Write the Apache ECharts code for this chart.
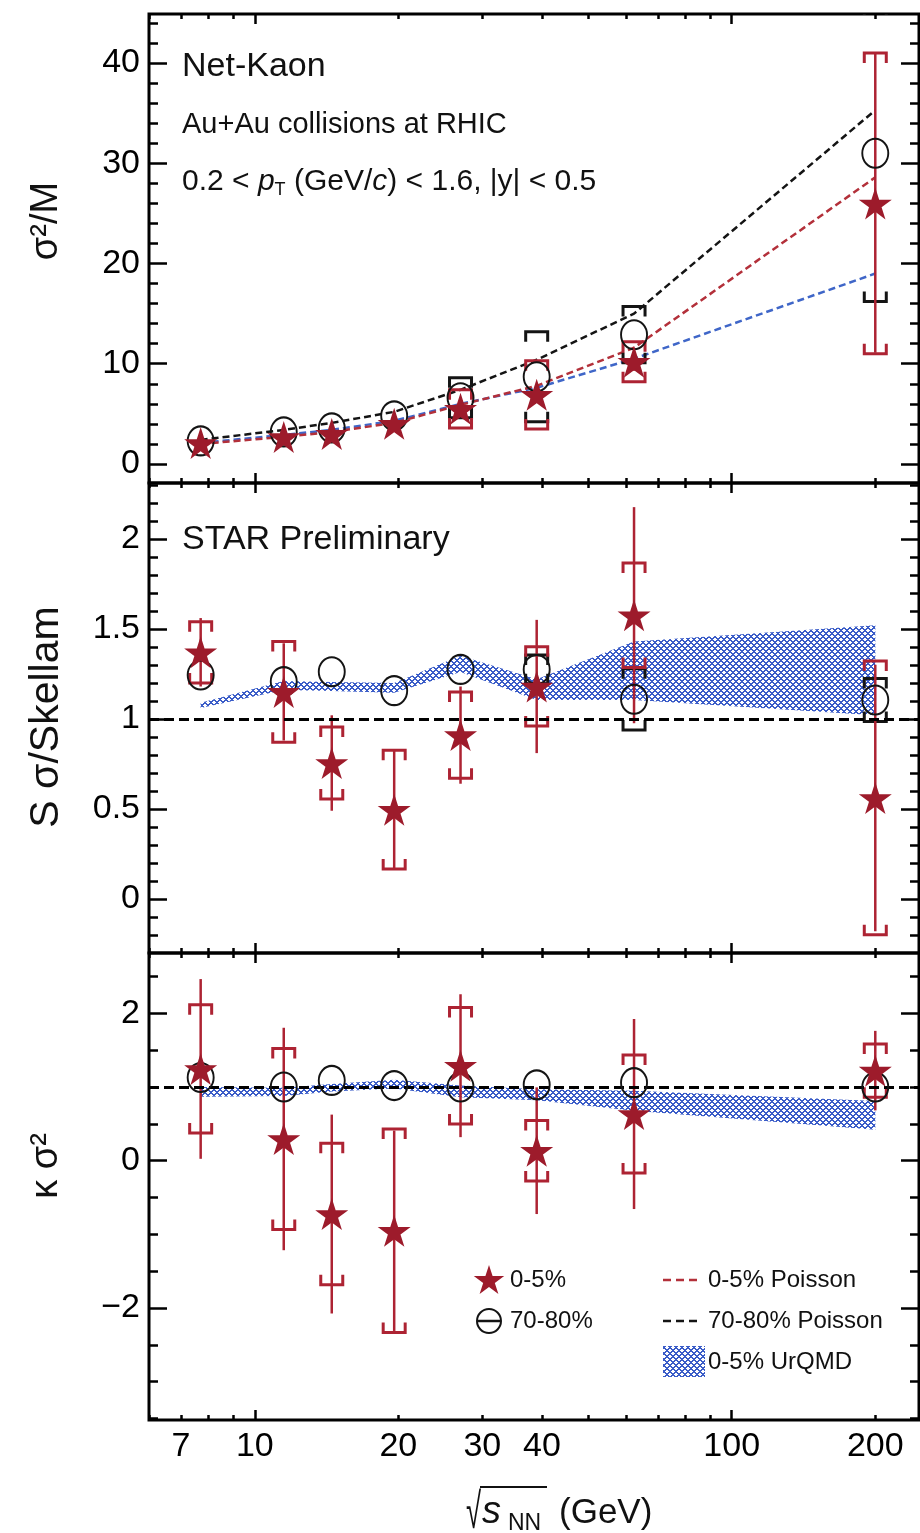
<!DOCTYPE html>
<html><head><meta charset="utf-8">
<script src="https://cdn.jsdelivr.net/npm/echarts@6/dist/echarts.min.js"></script>
<style>html,body{margin:0;padding:0;background:#fff}#c{width:920px;height:1533px}</style>
</head><body><div id="c"></div>
<script>
// ---------------- DATA ----------------
const energies = [7.7, 11.5, 14.5, 19.6, 27, 39, 62.4, 200];

// Panel 1: sigma^2/M   (null = bracket hidden behind the marker in the original)
const s2mCentral = [2.1, 2.7, 3.0, 4.0, 5.5, 6.9, 10.2, 26.0];
const s2mCentralStat = [0.05, 0.05, 0.08, 0.1, 0.2, 0.4, 0.9, 14.9];
const s2mCentralSys = [null, null, null, null, 1.9, 3.4, 2.0, 15.0];
const s2mPeripheral = [2.3, 3.2, 3.6, 4.8, 6.6, 8.7, 12.9, 31.0];
const s2mPeripheralSys = [null, null, null, null, 2.0, 4.5, 2.8, 14.8];
const s2mPoissonCentral = [2.0, 2.7, 3.2, 4.1, 5.9, 7.8, 11.6, 28.6];
const s2mPoissonPeripheral = [2.4, 3.4, 4.1, 5.2, 7.4, 10.4, 15.0, 35.3];
const s2mUrqmd = [2.1, 2.9, 3.4, 4.3, 6.0, 7.6, 10.5, 19.0];

// Panel 2: S sigma / Skellam
const sskCentral = [1.37, 1.15, 0.755, 0.496, 0.91, 1.18, 1.576, 0.561];
const sskCentralStat = [0.19, 0.27, 0.265, 0.33, 0.27, 0.37, 0.60, 0.74];
const sskCentralSys = [0.17, 0.28, 0.20, 0.33, 0.24, 0.22, 0.29, 0.76];
const sskPeripheral = [1.244, 1.207, 1.262, 1.157, 1.275, 1.275, 1.109, 1.105];
const sskPeripheralSys = [null, null, null, null, null, 0.08, 0.17, 0.12];
const sskUrqmdLow = [1.06, 1.16, 1.155, 1.145, 1.26, 1.105, 1.105, 1.02];
const sskUrqmdHigh = [1.09, 1.21, 1.205, 1.20, 1.35, 1.22, 1.43, 1.52];

// Panel 3: kappa sigma^2
const kurtCentral = [1.246, 0.295, -0.724, -0.951, 1.29, 0.136, 0.634, 1.223];
const kurtCentralStat = [1.22, 1.51, 1.35, 1.36, 0.97, 0.86, 1.29, 0.54];
const kurtCentralSys = [0.87, 1.23, 0.96, 1.38, 0.79, 0.41, 0.80, 0.36];
const kurtPeripheral = [1.13, 1.0, 1.09, 1.02, 1.0, 1.03, 1.06, 1.0];
const kurtUrqmdLow = [0.87, 0.88, 0.94, 0.98, 0.86, 0.82, 0.68, 0.42];
const kurtUrqmdHigh = [1.0, 0.99, 1.04, 1.10, 1.02, 0.97, 0.95, 0.81];

const poissonBaseline = 1;

// Tick labels
const xTickLabels = [7, 10, 20, 30, 40, 100, 200];
const xMajorTicks = [10, 100];
const xMinorTicks = [6, 7, 8, 9, 20, 30, 40, 50, 60, 70, 80, 90, 200];
const y1Labels = [0, 10, 20, 30, 40];
const y2Labels = [0, 0.5, 1, 1.5, 2];
const y3Labels = [-2, 0, 2];

// ---------------- LAYOUT ----------------
const FONT = "'Liberation Sans', Arial, Helvetica, sans-serif";
const XMIN = 6, XMAX = 247;
const grids = [
  {left: 149, width: 770, top: 14, height: 469},
  {left: 149, width: 770, top: 483, height: 470},
  {left: 149, width: 770, top: 953, height: 467}
];
const yRanges = [[-1.9, 44.9], [-0.3, 2.31], [-3.52, 2.82]];
function range(a, b, s) { const r = []; for (let v = a; v <= b + 1e-9; v += s) r.push(Math.round(v * 1000) / 1000); return r; }
const yMajor = [y1Labels, y2Labels, y3Labels];
const yMinor = [range(0, 44, 2), range(-0.2, 2.3, 0.1), range(-3.5, 2.5, 0.5)];
const yFmt = [v => String(v), v => String(v), v => v < 0 ? '\u2212' + Math.abs(v) : String(v)];

const STAR_RED = '#9d1b2b', BAR_RED = '#ad2333', BLACK = '#141414', BLUE = '#3f66c8';
const STAR = 'path://M0,-10L2.245,-3.09L9.511,-3.09L3.633,1.18L5.878,8.09L0,3.82L-5.878,8.09L-3.633,1.18L-9.511,-3.09L-2.245,-3.09Z';

function makeHatch() {
  const n = 6, c = document.createElement('canvas'); c.width = n; c.height = n;
  const g = c.getContext('2d'); const im = g.createImageData(n, n);
  for (let j = 0; j < n; j++) for (let i = 0; i < n; i++) {
    const on = ((i + j) % n) < 2 || ((i - j + n) % n) < 2;
    const o = (j * n + i) * 4;
    if (on) { im.data[o] = 58; im.data[o + 1] = 92; im.data[o + 2] = 200; im.data[o + 3] = 255; }
  }
  g.putImageData(im, 0, 0); return c;
}
const HATCH = makeHatch();

// ---------------- AXES ----------------
const L0 = Math.log10(XMIN), L1 = Math.log10(XMAX);
const xAxes = [], yAxes = [];
const tickLine = {color: '#000', width: 2.5};
grids.forEach((g, i) => {
  xAxes.push({type: 'log', logBase: 10, gridIndex: i, min: XMIN, max: XMAX, show: false, axisLine: {onZero: false}});
  const mkx = (pos, ticks, len, labels) => ({
    type: 'value', gridIndex: i, position: pos, min: L0, max: L1,
    axisLine: {show: false, onZero: false}, splitLine: {show: false},
    axisTick: {show: true, inside: true, length: len, customValues: ticks.map(Math.log10), lineStyle: tickLine},
    axisLabel: labels ? {show: true, customValues: labels.map(Math.log10),
      formatter: v => String(Math.round(Math.pow(10, v))), fontSize: 34, color: '#000', margin: 10, fontFamily: FONT} : {show: false}
  });
  xAxes.push(mkx('bottom', xMajorTicks, 10, i === 2 ? xTickLabels : null));
  xAxes.push(mkx('bottom', xMinorTicks, 5, null));
  xAxes.push(mkx('top', xMajorTicks, 10, null));
  xAxes.push(mkx('top', xMinorTicks, 5, null));

  const r = yRanges[i];
  const mky = (pos, ticks, len, labels) => ({
    type: 'value', gridIndex: i, position: pos, min: r[0], max: r[1],
    axisLine: {show: false, onZero: false}, splitLine: {show: false},
    axisTick: {show: true, inside: true, length: len, customValues: ticks, lineStyle: tickLine},
    axisLabel: labels ? {show: true, customValues: labels, formatter: yFmt[i], fontSize: 34, color: '#000', margin: 9, fontFamily: FONT} : {show: false}
  });
  yAxes.push(mky('left', yMajor[i], 18, yMajor[i]));
  yAxes.push(mky('left', yMinor[i], 9, null));
  yAxes.push(mky('right', yMajor[i], 18, null));
  yAxes.push(mky('right', yMinor[i], 9, null));
});

// ---------------- SERIES ----------------
const pairs = (xs, ys) => xs.map((x, k) => [x, ys[k]]);
function errSeries(p, ys, es, color, width, z) {
  return {type: 'custom', xAxisIndex: p * 5, yAxisIndex: p * 4, z, clip: true, silent: true,
    data: energies.map((x, k) => [x, ys[k], es[k]]).filter(d => d[2] != null), encode: {x: 0, y: 1},
    renderItem: (params, api) => {
      const x = api.value(0), y = api.value(1), e = api.value(2);
      const a = api.coord([x, y + e]), b = api.coord([x, y - e]);
      return {type: 'line', shape: {x1: a[0], y1: a[1], x2: b[0], y2: b[1]}, style: {stroke: color, lineWidth: width}};
    }};
}
function bracketSeries(p, ys, es, color, width, z) {
  return {type: 'custom', xAxisIndex: p * 5, yAxisIndex: p * 4, z, clip: true, silent: true,
    data: energies.map((x, k) => [x, ys[k], es[k]]).filter(d => d[2] != null), encode: {x: 0, y: 1},
    renderItem: (params, api) => {
      const x = api.value(0), y = api.value(1), e = api.value(2);
      const a = api.coord([x, y + e]), b = api.coord([x, y - e]);
      const hw = 11, leg = 10;
      return {type: 'group', children: [
        {type: 'polyline', shape: {points: [[a[0] - hw, a[1] + leg], [a[0] - hw, a[1]], [a[0] + hw, a[1]], [a[0] + hw, a[1] + leg]]}, style: {stroke: color, lineWidth: width, fill: null}},
        {type: 'polyline', shape: {points: [[b[0] - hw, b[1] - leg], [b[0] - hw, b[1]], [b[0] + hw, b[1]], [b[0] + hw, b[1] - leg]]}, style: {stroke: color, lineWidth: width, fill: null}}
      ]};
    }};
}
function bandSeries(p, lo, hi, z) {
  return {type: 'custom', xAxisIndex: p * 5, yAxisIndex: p * 4, z, clip: true, silent: true,
    data: [[energies[0], lo[0]]], encode: {x: 0, y: 1},
    renderItem: (params, api) => {
      const pts = energies.map((x, k) => api.coord([x, hi[k]]));
      for (let k = energies.length - 1; k >= 0; k--) pts.push(api.coord([energies[k], lo[k]]));
      return {type: 'polygon', shape: {points: pts}, style: {fill: {image: HATCH, repeat: 'repeat'}}};
    }};
}
function lineSeries(p, ys, color) {
  return {type: 'line', xAxisIndex: p * 5, yAxisIndex: p * 4, data: pairs(energies, ys), symbol: 'none', silent: true,
    lineStyle: {color, width: 2.5, type: [7, 4]}, z: 2};
}
function starSeries(p, ys) {
  return {type: 'scatter', xAxisIndex: p * 5, yAxisIndex: p * 4, data: pairs(energies, ys), symbol: STAR,
    symbolSize: [33, 32], itemStyle: {color: STAR_RED, opacity: 1}, z: 7, silent: true};
}
function circleSeries(p, ys, withRef) {
  const s = {type: 'scatter', xAxisIndex: p * 5, yAxisIndex: p * 4, data: pairs(energies, ys), symbol: 'circle',
    symbolSize: [26, 29], itemStyle: {color: 'rgba(0,0,0,0)', borderColor: BLACK, borderWidth: 2, opacity: 1}, z: 6, silent: true};
  if (withRef) s.markLine = {silent: true, symbol: 'none', label: {show: false}, animation: false,
    lineStyle: {color: '#000', width: 3, type: [10, 5]}, data: [{yAxis: poissonBaseline}]};
  return s;
}

const series = [
  // panel 1
  lineSeries(0, s2mUrqmd, BLUE),
  lineSeries(0, s2mPoissonCentral, '#b3303a'),
  lineSeries(0, s2mPoissonPeripheral, BLACK),
  bracketSeries(0, s2mPeripheral, s2mPeripheralSys, BLACK, 3, 3),
  bracketSeries(0, s2mCentral, s2mCentralSys, BAR_RED, 3, 4),
  errSeries(0, s2mCentral, s2mCentralStat, BAR_RED, 2.5, 4),
  circleSeries(0, s2mPeripheral, false),
  starSeries(0, s2mCentral),
  // panel 2
  bandSeries(1, sskUrqmdLow, sskUrqmdHigh, 1),
  bracketSeries(1, sskPeripheral, sskPeripheralSys, BLACK, 3, 3),
  bracketSeries(1, sskCentral, sskCentralSys, BAR_RED, 3, 4),
  errSeries(1, sskCentral, sskCentralStat, BAR_RED, 2.5, 4),
  circleSeries(1, sskPeripheral, true),
  starSeries(1, sskCentral),
  // panel 3
  bandSeries(2, kurtUrqmdLow, kurtUrqmdHigh, 1),
  bracketSeries(2, kurtCentral, kurtCentralSys, BAR_RED, 3, 4),
  errSeries(2, kurtCentral, kurtCentralStat, BAR_RED, 2.5, 4),
  circleSeries(2, kurtPeripheral, true),
  starSeries(2, kurtCentral)
];

// ---------------- GRAPHIC (texts, legend) ----------------
function starPts(cx, cy, R) {
  const pts = [];
  for (let k = 0; k < 10; k++) {
    const r = k % 2 === 0 ? R : R * 0.382;
    const a = -Math.PI / 2 + k * Math.PI / 5;
    pts.push([cx + r * Math.cos(a), cy + r * Math.sin(a)]);
  }
  return pts;
}
const txt = (x, y, text, size, extra, props) => Object.assign({type: 'text', x, y, silent: true,
  style: Object.assign({text, fontSize: size, fontFamily: FONT, fill: '#111', align: 'left', verticalAlign: 'middle'}, extra || {})}, props || {});

const graphic = [
  txt(182, 67, 'Net-Kaon', 34),
  txt(182, 125, 'Au+Au collisions at RHIC', 29),
  {type: 'text', x: 182, y: 182, silent: true, style: {
    text: '{a|0.2 < }{i|p}{t|T}{a| (GeV/}{i|c}{a|) < 1.6, |y| < 0.5}',
    fontFamily: FONT, fontSize: 30, fill: '#111', align: 'left', verticalAlign: 'middle',
    rich: {
      a: {fontSize: 30, fontFamily: FONT, fill: '#111', lineHeight: 34},
      i: {fontSize: 30, fontFamily: FONT, fontStyle: 'italic', fill: '#111', lineHeight: 34},
      t: {fontSize: 18, fontFamily: FONT, fill: '#111', lineHeight: 2, verticalAlign: 'bottom'}
    }}},
  txt(182, 540, 'STAR Preliminary', 34),
  // y-axis titles
  txt(47, 221, 'σ²/M', 38, {align: 'center'}, {rotation: Math.PI / 2}),
  txt(47, 717, 'S σ/Skellam', 41, {align: 'center'}, {rotation: Math.PI / 2}),
  txt(47, 1166, 'κ σ²', 38, {align: 'center'}, {rotation: Math.PI / 2}),
  // x-axis title
  txt(466, 1514, '√', 50, null, {scaleX: 0.55}),
  {type: 'line', silent: true, shape: {x1: 480, y1: 1487, x2: 547, y2: 1487}, style: {stroke: '#111', lineWidth: 2}},
  txt(482, 1512, 's', 38, {fontStyle: 'italic'}),
  txt(508, 1524, 'NN', 23),
  txt(559, 1513, '(GeV)', 35),
  // legend
  {type: 'polygon', silent: true, shape: {points: starPts(489, 1281, 16)}, style: {fill: STAR_RED}},
  txt(510, 1280, '0-5%', 24),
  {type: 'circle', silent: true, shape: {cx: 489, cy: 1321, r: 12}, style: {fill: null, stroke: BLACK, lineWidth: 2}},
  {type: 'line', silent: true, shape: {x1: 477, y1: 1321, x2: 501, y2: 1321}, style: {stroke: BLACK, lineWidth: 2.5}},
  txt(510, 1321, '70-80%', 24),
  {type: 'line', silent: true, shape: {x1: 663, y1: 1280, x2: 701, y2: 1280}, style: {stroke: '#b3303a', lineWidth: 2.5, lineDash: [8, 5]}},
  txt(708, 1280, '0-5% Poisson', 24),
  {type: 'line', silent: true, shape: {x1: 663, y1: 1321, x2: 701, y2: 1321}, style: {stroke: BLACK, lineWidth: 2.5, lineDash: [8, 5]}},
  txt(708, 1321, '70-80% Poisson', 24),
  {type: 'rect', silent: true, shape: {x: 663, y: 1346, width: 42, height: 31}, style: {fill: {image: HATCH, repeat: 'repeat'}}},
  txt(708, 1362, '0-5% UrQMD', 24)
];

const chart = echarts.init(document.getElementById('c'), null, {renderer: 'canvas'});
chart.setOption({
  animation: false,
  backgroundColor: '#fff',
  textStyle: {fontFamily: FONT},
  grid: grids.map(g => Object.assign({show: true, borderColor: '#000', borderWidth: 3, backgroundColor: 'transparent', containLabel: false}, g)),
  xAxis: xAxes,
  yAxis: yAxes,
  series,
  graphic
});
</script></body></html>
